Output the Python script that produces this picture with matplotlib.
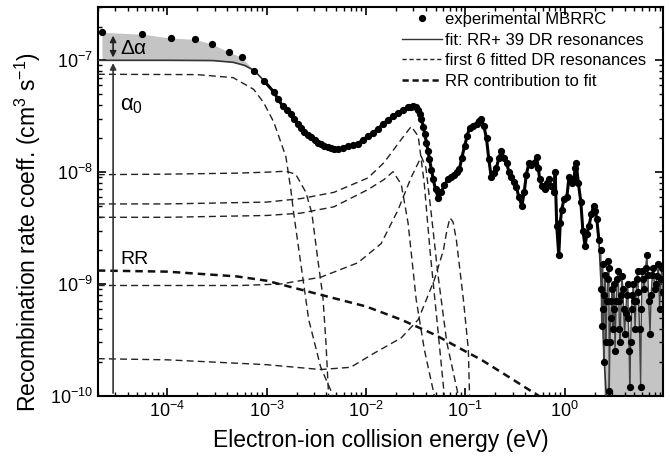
import numpy as np
import matplotlib.pyplot as plt
from matplotlib.ticker import LogLocator, NullFormatter

plt.rcParams['font.family'] = ['Liberation Sans', 'DejaVu Sans']
plt.rcParams['mathtext.fontset'] = 'custom'
plt.rcParams['mathtext.rm'] = 'Liberation Sans'
plt.rcParams['mathtext.it'] = 'Liberation Sans'

#Experimental MBRRC (energy in eV, rate in cm^3 s^-1), up to 2.2 eV
exp_e = [2.2e-5, 5.6e-5, 1.1e-4, 1.9e-4, 2.85e-4, 4.2e-4, 5.6e-4, 7.5e-4, 9.5e-4,
         1.18e-3, 1.3e-3, 1.45e-3, 1.6e-3, 1.75e-3, 1.9e-3, 2.05e-3, 2.2e-3, 2.37e-3,
         2.6e-3, 2.8e-3, 3.05e-3, 3.3e-3, 3.55e-3, 3.8e-3, 4.1e-3, 4.4e-3, 4.8e-3,
         5.2e-3, 5.9e-3, 6.6e-3, 7.4e-3, 8.3e-3, 9.3e-3, 0.0105, 0.0118, 0.0132,
         0.0149, 0.0167, 0.0188, 0.021, 0.0237, 0.0265, 0.0283, 0.030, 0.0318, 0.0335,
         0.0348, 0.036, 0.0377, 0.039, 0.0405, 0.042, 0.0435, 0.0455, 0.0475, 0.050,
         0.0533, 0.057, 0.061, 0.067, 0.072, 0.0774, 0.082, 0.087, 0.092, 0.098,
         0.104, 0.11, 0.12, 0.13, 0.138, 0.145, 0.153, 0.163, 0.172, 0.182, 0.193,
         0.205, 0.218, 0.23, 0.245, 0.26, 0.275, 0.29, 0.305, 0.325, 0.345, 0.37,
         0.39, 0.41, 0.435, 0.46, 0.49, 0.52, 0.54, 0.56, 0.59, 0.63, 0.66, 0.69,
         0.73, 0.78, 0.80, 0.83, 0.87, 0.90, 0.93, 0.98, 1.05, 1.1, 1.17, 1.24,
         1.27, 1.3, 1.37, 1.45, 1.52, 1.6, 1.67, 1.75, 1.85, 1.95, 2.03, 2.1, 2.2]
exp_a = [1.78e-7, 1.71e-7, 1.58e-7, 1.54e-7, 1.39e-7, 1.18e-7, 1.06e-7, 8.1e-8, 6.5e-8,
         5.2e-8, 4.5e-8, 3.9e-8, 3.6e-8, 3.3e-8, 3.0e-8, 2.7e-8, 2.5e-8, 2.3e-8,
         2.15e-8, 2.05e-8, 1.93e-8, 1.84e-8, 1.78e-8, 1.73e-8, 1.68e-8, 1.63e-8, 1.61e-8,
         1.6e-8, 1.64e-8, 1.7e-8, 1.75e-8, 1.8e-8, 1.95e-8, 2.1e-8, 2.25e-8, 2.45e-8,
         2.7e-8, 2.95e-8, 3.15e-8, 3.4e-8, 3.6e-8, 3.8e-8, 3.85e-8, 3.9e-8, 3.8e-8, 3.6e-8,
         3.3e-8, 3.0e-8, 2.56e-8, 2.2e-8, 1.84e-8, 1.55e-8, 1.3e-8, 1.05e-8, 8.6e-9, 7.0e-9,
         5.9e-9, 6.6e-9, 7.6e-9, 8.6e-9, 9.0e-9, 9.5e-9, 1.0e-8, 1.06e-8, 1.35e-8, 1.7e-8,
         2.1e-8, 2.5e-8, 2.6e-8, 2.7e-8, 2.85e-8, 3.0e-8, 2.6e-8, 2.0e-8, 1.3e-8, 9.0e-9, 9.8e-9,
         1.1e-8, 1.35e-8, 1.54e-8, 1.35e-8, 1.2e-8, 1.0e-8, 9.0e-9, 8.2e-9, 7.4e-9, 6.0e-9, 5.0e-9,
         6.6e-9, 9.5e-9, 1.2e-8, 1.15e-8, 1.2e-8, 1.38e-8, 1.1e-8, 8.6e-9, 7.5e-9, 7.0e-9, 8.0e-9, 8.6e-9,
         7.5e-9, 6.6e-9, 1.0e-8, 3.3e-9, 1.8e-9, 3.5e-9, 4.6e-9, 5.7e-9, 6.0e-9, 9.0e-9, 8.0e-9, 8.6e-9,
         1.1e-8, 1.2e-8, 8.0e-9, 5.4e-9, 3.0e-9, 2.2e-9, 2.8e-9, 3.3e-9, 4.2e-9, 5.0e-9, 4.5e-9, 3.8e-9, 2.5e-9]

#Experimental MBRRC above 2.2 eV (noisy part)
hi_e = [2.3, 2.33, 2.35, 2.4, 2.43, 2.46, 2.5, 2.55, 2.6, 2.65, 2.7, 2.75, 2.78, 2.8, 2.85,
        2.9, 2.95, 3.0, 3.05, 3.1, 3.15, 3.2, 3.3, 3.35, 3.45, 3.5, 3.55, 3.6, 3.7, 3.75,
        3.85, 3.9, 4.0, 4.1, 4.2, 4.3, 4.35, 4.45, 4.5, 4.6, 4.7, 4.8, 4.9, 5.0, 5.1, 5.2,
        5.3, 5.4, 5.5, 5.65, 5.8, 5.9, 6.0, 6.15, 6.3, 6.5, 6.7, 6.85, 7.0, 7.2, 7.4, 7.6,
        7.8, 8.0, 8.25, 8.5, 8.75, 9.0, 9.25, 9.5, 9.7]
hi_a = [2.0e-9, 9e-10, 4.2e-10, 1.5e-9, 6e-10, 2.0e-10, 8e-10, 1.2e-9, 3e-10, 7e-10, 1.1e-9,
        1.6e-9, 1.4e-9, 1.1e-10, 3e-10, 5e-10, 7e-10, 9e-10, 4e-10, 6e-10, 1.0e-9, 2.5e-10,
        7e-10, 1.1e-9, 1.3e-9, 7e-10, 4e-10, 3e-10, 8e-10, 1.17e-9, 9e-10, 6e-10, 3.6e-10,
        5.5e-10, 8e-10, 1.0e-9, 5e-10, 2.5e-10, 1.2e-10, 3e-10, 6e-10, 8e-10, 1.0e-9, 7e-10,
        4e-10, 7e-10, 1.1e-9, 1.3e-9, 8.4e-10, 4e-10, 1.2e-10, 6e-10, 1.3e-9, 1.1e-9, 9e-10,
        1.4e-9, 1.8e-9, 1.2e-9, 7e-10, 3.6e-10, 8e-10, 1.2e-9, 1.4e-9, 9e-10, 1.0e-9, 1.17e-9,
        1.5e-9, 6e-10, 1.1e-9, 1.4e-9, 8.4e-10]

#Fit at low energies (flat alpha_0 part), between 1e-3 and 2.2 eV it runs through the data
fit_low_e = [2e-5, 1e-4, 2.85e-4, 4.6e-4, 6e-4, 7.5e-4]
fit_low_a = [1.0e-7, 1.0e-7, 9.95e-8, 9.6e-8, 9.0e-8, 8.1e-8]
fit_tail_e = [2.35, 2.5, 2.65]
fit_tail_a = [8e-10, 2e-10, 8e-11]

#alpha_0 line under the first data points for the shaded Delta-alpha region
fill_low_a = [1.0e-7, 1.0e-7, 1.0e-7, 1.0e-7, 9.95e-8, 9.7e-8, 9.2e-8, 8.1e-8]

#First 6 fitted DR resonances
dr_a_e = [2e-5, 2e-4, 4.6e-4, 7.4e-4, 9.3e-4, 1.18e-3, 1.56e-3, 1.75e-3, 1.87e-3, 2.3e-3, 2.65e-3, 3.5e-3, 4.4e-3, 4.6e-3]
dr_a_a = [7.5e-8, 7.45e-8, 7.0e-8, 5.5e-8, 4.2e-8, 2.8e-8, 1.38e-8, 7e-9, 4.3e-9, 1.17e-9, 4.8e-10, 1.8e-10, 1.13e-10, 1e-10]
dr_b_e = [2e-5, 1e-4, 5e-4, 1e-3, 1.56e-3, 1.96e-3, 2.48e-3, 2.85e-3, 3.27e-3, 3.68e-3, 3.95e-3, 4.2e-3]
dr_b_a = [9.5e-9, 9.6e-9, 9.8e-9, 1.0e-8, 1.02e-8, 9.6e-9, 6.6e-9, 4.3e-9, 1.66e-9, 7.7e-10, 3e-10, 1.0e-10]
dr_c_e = [2e-5, 1e-4, 1e-3, 2.2e-3, 4.75e-3, 0.0105, 0.0152, 0.0226, 0.0285, 0.0335, 0.0385, 0.044, 0.052, 0.0614]
dr_c_a = [5.2e-9, 5.2e-9, 5.4e-9, 5.8e-9, 6.6e-9, 8.9e-9, 1.22e-8, 1.96e-8, 2.56e-8, 2.1e-8, 8e-9, 2e-9, 4.5e-10, 1.0e-10]
dr_d_e = [2e-5, 1e-4, 1e-3, 2.2e-3, 4.75e-3, 0.0105, 0.0152, 0.0187, 0.0226, 0.0265, 0.032, 0.0386, 0.0487]
dr_d_a = [3.95e-9, 3.95e-9, 4.1e-9, 4.3e-9, 4.9e-9, 7.0e-9, 8.6e-9, 1.01e-8, 7.8e-9, 3.5e-9, 7.2e-10, 2.6e-10, 1.0e-10]
dr_e_e = [2e-5, 5.5e-4, 1.38e-3, 3.5e-3, 8.3e-3, 0.0142, 0.021, 0.0285, 0.036, 0.04, 0.045, 0.053, 0.065, 0.085]
dr_e_a = [9.7e-10, 9.7e-10, 1.0e-9, 1.15e-9, 1.55e-9, 2.3e-9, 4.6e-9, 9e-9, 1.38e-8, 1.1e-8, 4.5e-9, 1.2e-9, 3e-10, 1.0e-10]
dr_f_e = [2e-5, 1e-4, 1e-3, 3.5e-3, 7e-3, 0.012, 0.0226, 0.0335, 0.0487, 0.06, 0.065, 0.07, 0.075, 0.081, 0.0955, 0.107, 0.11]
dr_f_a = [2.15e-10, 2.1e-10, 1.9e-10, 1.72e-10, 1.8e-10, 2.4e-10, 3.3e-10, 4.8e-10, 1.09e-9, 2.0e-9, 3.0e-9, 3.9e-9, 3.6e-9, 2.5e-9, 7.2e-10, 2.6e-10, 1.0e-10]

#RR contribution
rr_e = [2e-5, 1e-4, 5e-4, 1e-3, 3e-3, 1e-2, 0.0226, 0.05, 0.1, 0.145, 0.3, 0.5, 0.55]
rr_a = [1.32e-9, 1.29e-9, 1.17e-9, 1.07e-9, 8.3e-10, 6.3e-10, 4.8e-10, 3.5e-10, 2.5e-10, 2.1e-10, 1.4e-10, 1.05e-10, 1.0e-10]

exp_e = np.array(exp_e)
exp_a = np.array(exp_a)
grey = '#c4c4c4'

fig = plt.figure(figsize=(6.7, 4.63), dpi=100)
ax = fig.add_axes([0.146, 0.145, 0.844, 0.840])

#Shaded regions
n_low = len(fill_low_a)
ax.fill_between(exp_e[:n_low], exp_a[:n_low], fill_low_a, color=grey, lw=0, zorder=1)
ax.fill_between(hi_e[5:], hi_a[5:], 1e-10, color=grey, lw=0, zorder=1)

#DR resonances
for e, a in [(dr_a_e, dr_a_a), (dr_b_e, dr_b_a), (dr_c_e, dr_c_a),
             (dr_d_e, dr_d_a), (dr_e_e, dr_e_a), (dr_f_e, dr_f_a)]:
    ax.plot(e, a, color='#222222', lw=1.0, ls=(0, (5, 3)), zorder=3)
ax.plot(rr_e, rr_a, color='#111111', lw=1.8, ls=(0, (3, 2)), zorder=3)

#Fit
mid = exp_e >= 7.5e-4
fit_e = fit_low_e[:-1] + list(exp_e[mid]) + fit_tail_e
fit_a = fit_low_a[:-1] + list(exp_a[mid]) + fit_tail_a
ax.plot(fit_e, fit_a, color='#333333', lw=1.2, zorder=4)
ax.plot(hi_e, hi_a, color='#444444', lw=1.0, zorder=4)

#Data
ax.plot(exp_e[exp_e > 9e-4], exp_a[exp_e > 9e-4], color='black', lw=2.2, zorder=5)
ax.plot(exp_e, exp_a, 'o', color='black', ms=4.2, zorder=6)
ax.plot(hi_e, hi_a, 'o', color='black', ms=4.2, zorder=6)

#Arrows for alpha_0 and Delta alpha
x_arr = 2.85e-5
ax.annotate('', xy=(x_arr, 1.0e-7), xytext=(x_arr, 1e-10),
            arrowprops=dict(arrowstyle='-|>', color='#333333', lw=1.2, mutation_scale=9), zorder=7)
ax.annotate('', xy=(x_arr, 1.76e-7), xytext=(x_arr, 1.0e-7),
            arrowprops=dict(arrowstyle='<|-|>', color='#222222', lw=1.2, mutation_scale=9), zorder=7)
ax.text(3.35e-5, 1.13e-7, r'$\Delta\alpha$', fontsize=15, va='baseline', ha='left', zorder=8)
ax.text(3.35e-5, 3.6e-8, r'$\alpha_0$', fontsize=16, va='baseline', ha='left', zorder=8)
ax.text(3.35e-5, 1.5e-9, 'RR', fontsize=14, va='baseline', ha='left', zorder=8)

ax.set_xscale('log')
ax.set_yscale('log')
ax.set_xlim(2e-5, 9.8)
ax.set_ylim(1e-10, 3e-7)

ax.xaxis.set_major_locator(LogLocator(base=10, numticks=20))
ax.xaxis.set_minor_locator(LogLocator(base=10, subs=np.arange(2, 10), numticks=20))
ax.yaxis.set_minor_locator(LogLocator(base=10, subs=np.arange(2, 10), numticks=20))
ax.xaxis.set_minor_formatter(NullFormatter())
ax.yaxis.set_minor_formatter(NullFormatter())
ax.tick_params(which='both', direction='in', top=True, right=True, labelsize=13)
ax.tick_params(which='major', length=6, width=1.2)
ax.tick_params(which='minor', length=3, width=1.0)
for s in ax.spines.values():
    s.set_linewidth(1.5)

ax.set_xlabel('Electron-ion collision energy (eV)', fontsize=16.5, labelpad=6)
ax.set_ylabel(r'Recombination rate coeff. (cm$^3$ s$^{-1}$)', fontsize=16.5)
ax.yaxis.set_label_coords(-0.097, 0.42)

#Legend
h1, = ax.plot([], [], 'o', color='black', ms=4.2)
h2, = ax.plot([], [], color='#333333', lw=1.0)
h3, = ax.plot([], [], color='#222222', lw=1.0, ls=(0, (3, 2)))
h4, = ax.plot([], [], color='#111111', lw=1.8, ls=(0, (2.5, 1.5)))
ax.legend([h1, h2, h3, h4],
          ['experimental MBRRC', 'fit: RR+ 39 DR resonances',
           'first 6 fitted DR resonances', 'RR contribution to fit'],
          loc='upper right', bbox_to_anchor=(0.996, 1.025), frameon=False,
          fontsize=12, handlelength=2.4, handletextpad=0.15, labelspacing=0.33)

plt.savefig('out.png', dpi=100)
